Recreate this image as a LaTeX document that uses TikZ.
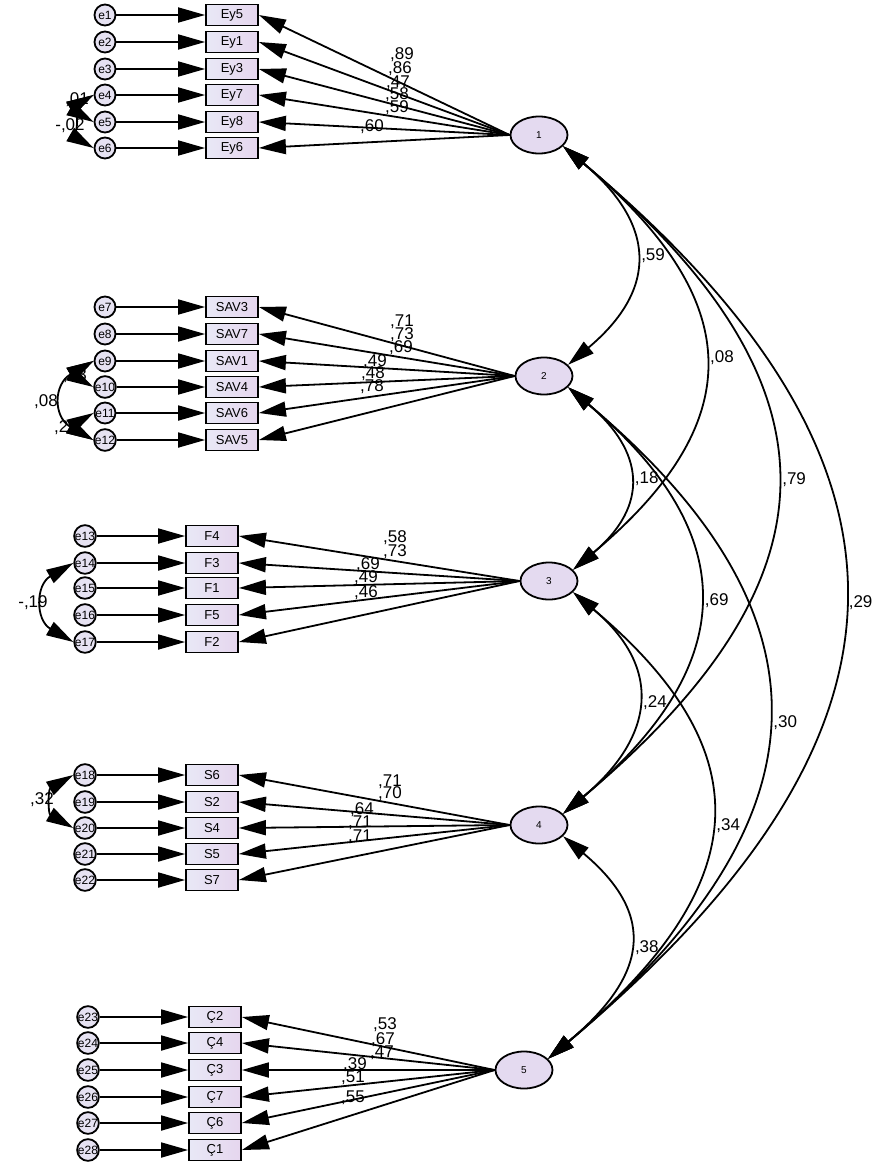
\documentclass[tikz,border=0pt]{standalone}
\usepackage{fontspec}
\setmainfont{Liberation Sans}
\usetikzlibrary{shapes.geometric,arrows.meta,positioning}
\definecolor{clat}{HTML}{E4DAF0}
\definecolor{cobsa}{HTML}{E8E8F6}
\definecolor{cobsb}{HTML}{E6D6EE}
\definecolor{cerr}{HTML}{E6E2F2}

\begin{document}
\begin{tikzpicture}[x=1pt,y=-1pt,line width=1.8pt,>={Triangle[length=27pt,width=15pt]}]
  \tikzstyle{lat}=[draw,ellipse,fill=clat,minimum width=57pt,minimum height=37pt,inner sep=0pt,font=\fontsize{10}{10}\selectfont]
  \tikzstyle{obs}=[draw,rectangle,left color=cobsa,right color=cobsb,minimum width=52pt,minimum height=21pt,inner sep=0pt,font=\fontsize{13}{13}\selectfont]
  \tikzstyle{err}=[draw,circle,fill=cerr,minimum size=21pt,inner sep=0pt,font=\fontsize{12}{12}\selectfont]
  \tikzstyle{est}=[inner sep=0pt,font=\fontsize{17}{17}\selectfont]
  \useasboundingbox (0,0) rectangle (880,1167);

  % latent factors
  \node[lat] (f1) at (539,135) {1};
  \node[lat] (f2) at (544,376) {2};
  \node[lat] (f3) at (549,581) {3};
  \node[lat] (f4) at (539,825) {4};
  \node[lat] (f5) at (524,1070) {5};

  % factor 1
  \foreach \i/\v/\y in {1/Ey5/15,2/Ey1/42,3/Ey3/69,4/Ey7/95,5/Ey8/122,6/Ey6/148}{
    \node[err] (e\i) at (105,\y) {e\i};
    \node[obs] (o\i) at (232,\y) {\v};
    \draw[->] (e\i) -- (o\i);
    \draw[->] (f1.west) -- (o\i.east);
  }
  % factor 2
  \foreach \i/\v/\y in {7/SAV3/307,8/SAV7/334,9/SAV1/361,10/SAV4/387,11/SAV6/413,12/SAV5/440}{
    \node[err] (e\i) at (105,\y) {e\i};
    \node[obs] (o\i) at (232,\y) {\v};
    \draw[->] (e\i) -- (o\i);
    \draw[->] (f2.west) -- (o\i.east);
  }
  % factor 3
  \foreach \i/\v/\y in {13/F4/536,14/F3/563,15/F1/588,16/F5/615,17/F2/642}{
    \node[err] (e\i) at (85,\y) {e\i};
    \node[obs] (o\i) at (212,\y) {\v};
    \draw[->] (e\i) -- (o\i);
    \draw[->] (f3.west) -- (o\i.east);
  }
  % factor 4
  \foreach \i/\v/\y in {18/S6/775,19/S2/802,20/S4/828,21/S5/854,22/S7/880}{
    \node[err] (e\i) at (85,\y) {e\i};
    \node[obs] (o\i) at (212,\y) {\v};
    \draw[->] (e\i) -- (o\i);
    \draw[->] (f4.west) -- (o\i.east);
  }
  % factor 5
  \foreach \i/\v/\y in {23/Ç2/1017,24/Ç4/1043,25/Ç3/1070,26/Ç7/1097,27/Ç6/1123,28/Ç1/1150}{
    \node[err] (e\i) at (88,\y) {e\i};
    \node[obs] (o\i) at (215,\y) {\v};
    \draw[->] (e\i) -- (o\i);
    \draw[->] (f5.west) -- (o\i.east);
  }

  % loadings
  \foreach \t/\x/\y [count=\k] in {{,89}/402/55,{,86}/400/69,{,47}/398/83,{,58}/397/95,{,59}/397/108,{,60}/372/127,
      {,71}/402/322,{,73}/402/335,{,69}/401/348,{,49}/375/362,{,48}/373/374,{,78}/372/387,
      {,58}/395/538,{,73}/395/552,{,69}/368/565,{,49}/366/578,{,46}/366/593,
      {,71}/390/782,{,70}/390/794,{,64}/362/810,{,71}/360/823,{,71}/360/837,
      {,53}/385/1025,{,67}/383/1040,{,47}/382/1053,{,39}/355/1065,{,51}/353/1078,{,55}/353/1098}
    \node[est] (w\k) at (\x,\y) {\t};

  % factor covariances
  \draw[<->] (f1.-25) to[out=-40,in=40,looseness=1.40] node[est,right=6pt] (c12) {,59} (f2.25);
  \draw[<->] (f1.-25) to[out=-40,in=40,looseness=1.42] node[est,right=6pt] (c13) {,08} (f3.25);
  \draw[<->] (f1.-25) to[out=-40,in=40,looseness=1.42] node[est,right=6pt] (c14) {,79} (f4.25);
  \draw[<->] (f1.-25) to[out=-40,in=40,looseness=1.40] node[est,right=5pt] (c15) {,29} (f5.25);
  \draw[<->] (f2.-25) to[out=-40,in=40,looseness=1.40] node[est,right=6pt] (c23) {,18} (f3.25);
  \draw[<->] (f2.-25) to[out=-40,in=40,looseness=1.38] node[est,right=6pt] (c24) {,69} (f4.25);
  \draw[<->] (f2.-25) to[out=-40,in=40,looseness=1.38] node[est,right=6pt] (c25) {,30} (f5.25);
  \draw[<->] (f3.-25) to[out=-40,in=40,looseness=1.37] node[est,right=6pt] (c34) {,24} (f4.25);
  \draw[<->] (f3.-25) to[out=-40,in=40,looseness=1.42] node[est,right=6pt] (c35) {,34} (f5.25);
  \draw[<->] (f4.-25) to[out=-40,in=40,looseness=1.45] node[est,right=6pt] (c45) {,38} (f5.25);

  % error covariances
  \draw[<->] (e4.west) to[out=210,in=150,looseness=1.6] (e5.west);
  \draw[<->] (e4.west) to[out=210,in=150,looseness=0.8] (e6.west);
  \node[est] (r45) at (77,100) {,01};
  \node[est] (r46) at (70,126) {-,02};
  \draw[<->] (e9.west) to[out=210,in=150,looseness=1.8] (e10.west);
  \draw[<->] (e9.west) to[out=210,in=150,looseness=1.5] (e12.west);
  \draw[<->] (e11.west) to[out=210,in=150,looseness=2] (e12.west);
  \node[est] (r910) at (75,376) {,23};
  \node[est] (r912) at (46,402) {,08};
  \node[est] (r1112) at (66,428) {,25};
  \draw[<->] (e14.west) to[out=210,in=150,looseness=1.42] (e17.west);
  \node[est] (r1417) at (33,603) {-,19};
  \draw[<->] (e18.west) to[out=210,in=150,looseness=1.41] (e20.west);
  \node[est] (r1820) at (42,800) {,32};
\end{tikzpicture}
\end{document}
